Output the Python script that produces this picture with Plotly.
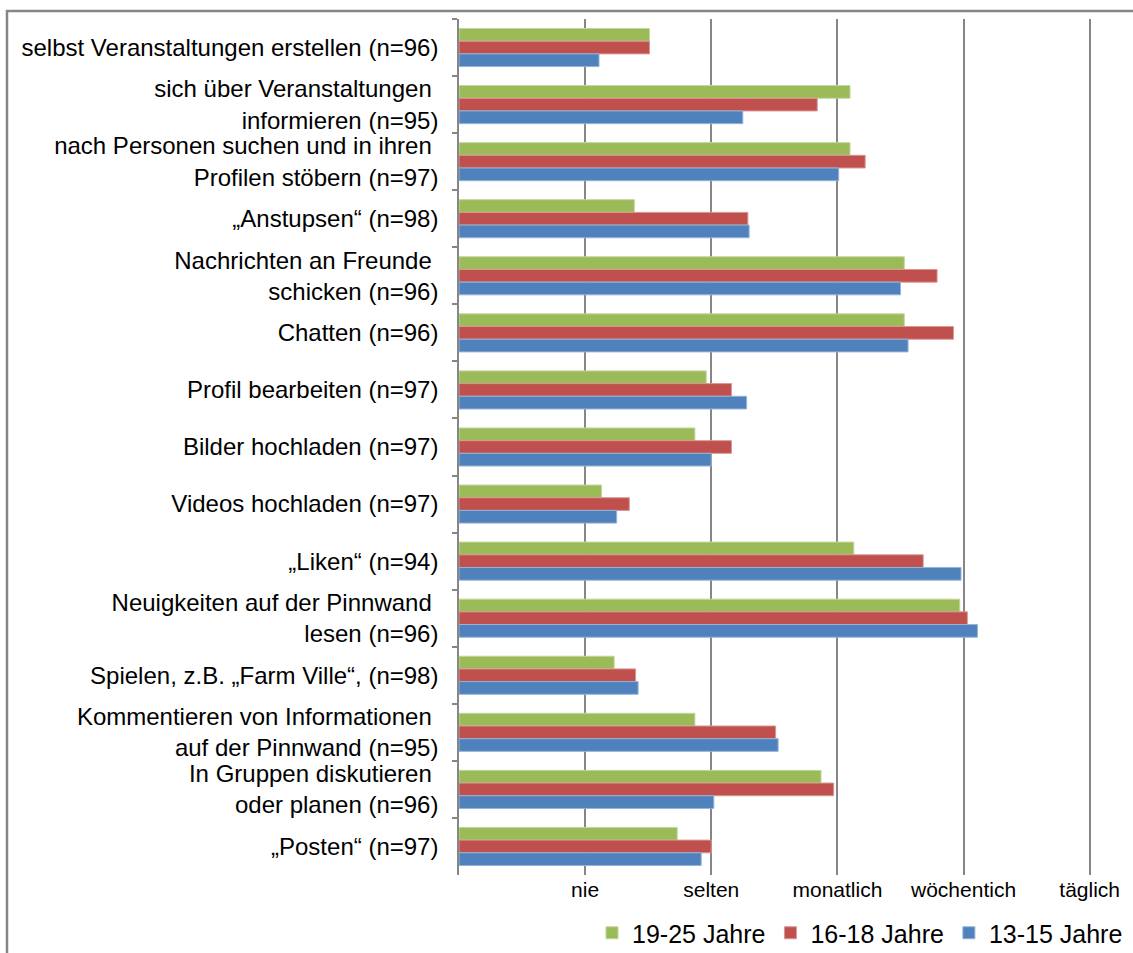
import plotly.graph_objects as go

# Activities (top to bottom) and mean usage frequency per age group
categories = [
    "selbst Veranstaltungen erstellen (n=96)",
    "sich über Veranstaltungen\u00a0<br>informieren (n=95)",
    "nach Personen suchen und in ihren\u00a0<br>Profilen stöbern (n=97)",
    "„Anstupsen“ (n=98)",
    "Nachrichten an Freunde\u00a0<br>schicken (n=96)",
    "Chatten (n=96)",
    "Profil bearbeiten (n=97)",
    "Bilder hochladen (n=97)",
    "Videos hochladen (n=97)",
    "„Liken“ (n=94)",
    "Neuigkeiten auf der Pinnwand\u00a0<br>lesen (n=96)",
    "Spielen, z.B. „Farm Ville“, (n=98)",
    "Kommentieren von Informationen\u00a0<br>auf der Pinnwand (n=95)",
    "In Gruppen diskutieren\u00a0<br>oder planen (n=96)",
    "„Posten“ (n=97)",
]

age_19_25 = [1.51, 3.10, 3.10, 1.39, 3.53, 3.53, 1.96, 1.87, 1.13, 3.13, 3.97, 1.23, 1.87, 2.87, 1.73]
age_16_18 = [1.51, 2.84, 3.22, 2.29, 3.79, 3.92, 2.16, 2.16, 1.35, 3.68, 4.03, 1.40, 2.51, 2.97, 2.00]
age_13_15 = [1.11, 2.25, 3.01, 2.30, 3.50, 3.56, 2.28, 2.00, 1.25, 3.98, 4.11, 1.42, 2.53, 2.02, 1.92]

tick_values = [1, 2, 3, 4, 5]
tick_labels = ["nie", "selten", "monatlich", "wöchentich", "täglich"]

series = [
    ("19-25 Jahre", age_19_25, "#9BBB59", "#C3D69B"),
    ("16-18 Jahre", age_16_18, "#C0504D", "#D99694"),
    ("13-15 Jahre", age_13_15, "#4F81BD", "#95B3D7"),
]

fig = go.Figure()
for name, vals, color, edge in series:
    fig.add_trace(go.Bar(
        y=categories,
        x=vals,
        name=name,
        orientation="h",
        marker=dict(color=color, line=dict(color=edge, width=1)),
    ))

W, H = 1133, 953
L, R, T, B = 459, 37, 19, 78
plot_w = W - L - R
plot_h = H - T - B

def px_to_paper_x(px):
    return (px - L) / plot_w

def px_to_paper_y(py):
    return (H - B - py) / plot_h

grid_color = "#868686"

fig.update_layout(
    width=W,
    height=H,
    margin=dict(l=L, r=R, t=T, b=B, autoexpand=False),
    paper_bgcolor="white",
    plot_bgcolor="white",
    barmode="group",
    bargap=0.333,
    bargroupgap=0,
    font=dict(family="Liberation Sans, Arial, sans-serif", color="#000000"),
    legend=dict(
        orientation="h",
        x=px_to_paper_x(1128),
        xanchor="right",
        y=px_to_paper_y(956),
        yanchor="bottom",
        font=dict(size=25),
        itemwidth=30,
        tracegroupgap=0,
    ),
    xaxis=dict(
        range=[0, 5.05],
        tickvals=tick_values,
        ticktext=tick_labels,
        showgrid=True,
        gridcolor=grid_color,
        gridwidth=1.5,
        zeroline=False,
        showline=False,
        ticks="",
        ticklabelstandoff=0,
        tickfont=dict(size=21),
        fixedrange=True,
    ),
    yaxis=dict(
        autorange="reversed",
        showline=True,
        linecolor=grid_color,
        linewidth=1.5,
        ticks="outside",
        tickson="boundaries",
        ticklen=5,
        tickcolor=grid_color,
        tickwidth=1.5,
        ticklabelstandoff=14,
        tickfont=dict(size=24),
        showgrid=False,
    ),
    shapes=[
        dict(
            type="rect",
            xref="paper",
            yref="paper",
            x0=px_to_paper_x(7),
            x1=px_to_paper_x(1160),
            y0=px_to_paper_y(990),
            y1=px_to_paper_y(11),
            line=dict(color=grid_color, width=2.5),
            fillcolor="rgba(0,0,0,0)",
            layer="below",
        )
    ],
)

fig.write_html("out.html")
